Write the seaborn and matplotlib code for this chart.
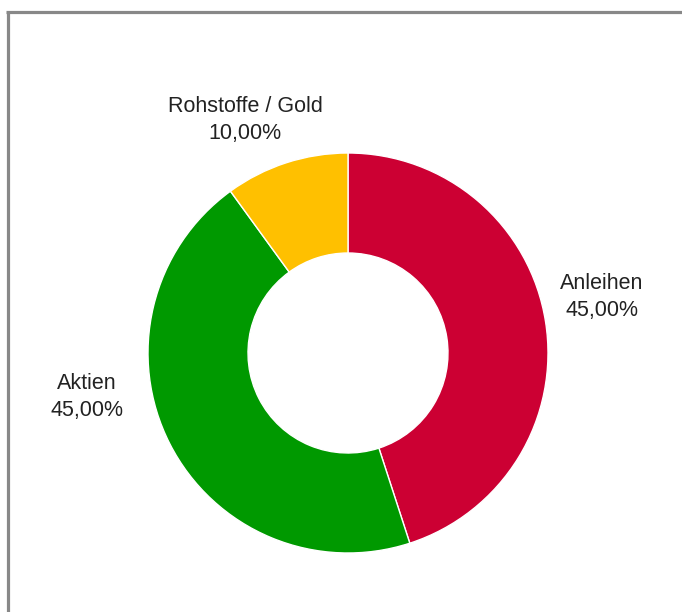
import numpy as np
import matplotlib
matplotlib.use("Agg")
import matplotlib.pyplot as plt
import seaborn as sns
from matplotlib.lines import Line2D

# data
categories = ["Anleihen", "Aktien", "Rohstoffe / Gold"]
shares = [45.0, 45.0, 10.0]
colors = ["#CC0033", "#009900", "#FFC000"]

sns.set_style("white")
plt.rcParams['font.family'] = ['Liberation Sans', 'DejaVu Sans']

W, H = 682, 612
fig = plt.figure(figsize=(W / 100, H / 100), dpi=100)
ax = fig.add_axes([0, 0, 1, 1])

cx, cy, r = 348, H - 353, 200
wedges, _ = ax.pie(shares, colors=colors, startangle=90, counterclock=False,
                   center=(cx, cy), radius=r, frame=True,
                   wedgeprops=dict(width=r * 0.5, edgecolor='white', linewidth=1))
ax.set_xlim(0, W)
ax.set_ylim(0, H)
ax.set_aspect('equal')
ax.axis('off')

# label positions (pixel offsets from the centre)
label_pos = [(254, 56), (-261, -44), (-103, 233)]
for name, val, (dx, dy) in zip(categories, shares, label_pos):
    txt = f"{name}\n{val:.2f}%".replace('.', ',')
    ax.text(cx + dx, cy + dy, txt, ha='center', va='center',
            fontsize=15.5, color='#222222', linespacing=1.35)

# frame cut at the right and bottom edges
fig.add_artist(Line2D([7.5 / W, 7.5 / W], [0, (H - 11.5) / H], color='#888888',
                      lw=2.3, transform=fig.transFigure, solid_capstyle='butt'))
fig.add_artist(Line2D([6.3 / W, 1], [(H - 11.5) / H, (H - 11.5) / H], color='#888888',
                      lw=2.3, transform=fig.transFigure, solid_capstyle='butt'))

fig.savefig('out.png', dpi=100, facecolor='white')
